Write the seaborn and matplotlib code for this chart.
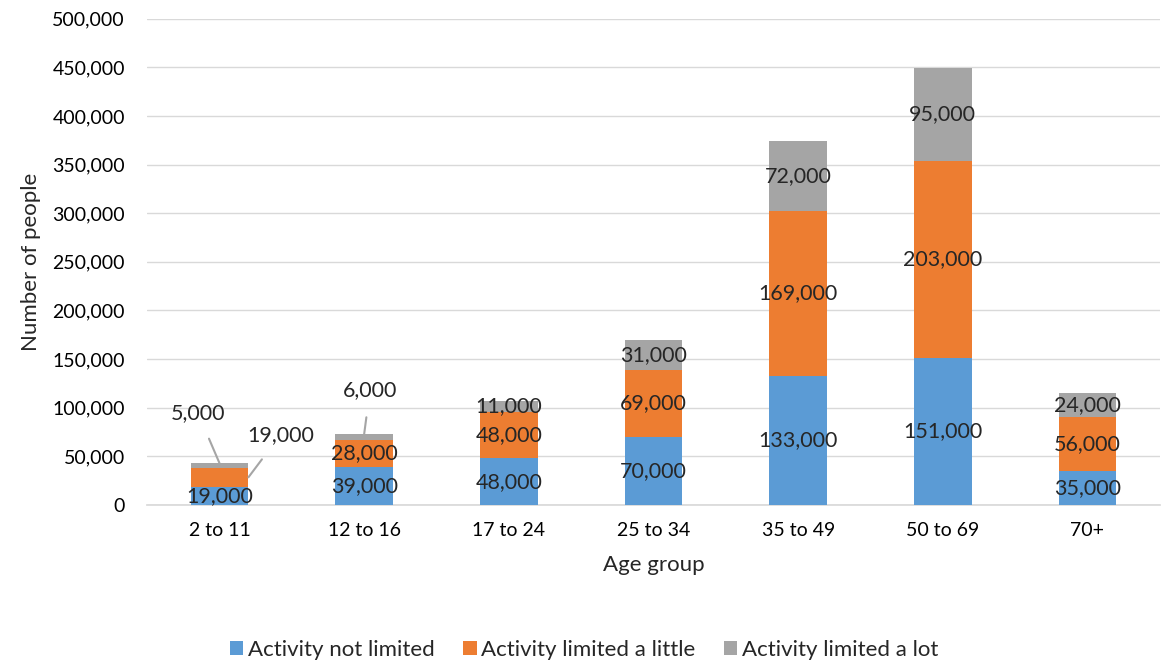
import numpy as np
import pandas as pd
import seaborn as sns
import matplotlib.pyplot as plt
from matplotlib.ticker import FuncFormatter
from matplotlib.patches import Patch

age_groups = ["2 to 11", "12 to 16", "17 to 24", "25 to 34", "35 to 49", "50 to 69", "70+"]
not_limited = [19000, 39000, 48000, 70000, 133000, 151000, 35000]
limited_little = [19000, 28000, 48000, 69000, 169000, 203000, 56000]
limited_lot = [5000, 6000, 11000, 31000, 72000, 95000, 24000]

series_names = ["Activity not limited", "Activity limited a little", "Activity limited a lot"]
colors = ["#5B9BD5", "#ED7D31", "#A5A5A5"]

sns.set_theme(style="white")
plt.rcParams['font.family'] = ['Lato', 'DejaVu Sans']

fig = plt.figure(figsize=(11.68, 6.68), dpi=100)
ax = fig.add_axes([0.126, 0.244, 0.867, 0.728])

# cumulative tops, drawn from the highest down so the stack shows through
s1 = np.array(not_limited)
s2 = s1 + np.array(limited_little)
s3 = s2 + np.array(limited_lot)
for tops, col in zip([s3, s2, s1], colors[::-1]):
    df = pd.DataFrame({"age": age_groups, "value": tops})
    sns.barplot(data=df, x="age", y="value", color=col, width=0.4,
                saturation=1, linewidth=0, ax=ax, zorder=3)

ax.set_ylim(0, 500000)
ax.set_yticks(np.arange(0, 500001, 50000))
ax.yaxis.set_major_formatter(FuncFormatter(lambda v, p: f"{int(v):,}"))
ax.grid(axis="y", color="#D9D9D9", linewidth=1, zorder=0)
for sp in ["top", "right", "left"]:
    ax.spines[sp].set_visible(False)
ax.spines["bottom"].set_color("#D9D9D9")
ax.tick_params(axis="both", length=0, labelsize=14, colors="#000000")
ax.tick_params(axis="x", pad=12)
ax.tick_params(axis="y", pad=16)
ax.set_xlabel("Age group", fontsize=16, labelpad=12)
ax.set_ylabel("Number of people", fontsize=16, labelpad=8)

# segment labels
bottoms = [np.zeros(7), s1, s2]
vals = [not_limited, limited_little, limited_lot]
line_style = dict(arrowstyle="-", color="#A5A5A5", lw=1.5, shrinkA=10, shrinkB=0)
for k in range(3):
    for i in range(7):
        v = vals[k][i]
        y = bottoms[k][i] + v / 2
        label = f"{v:,}"
        if i == 0 and k == 1:
            ax.annotate(label, xy=(0.2, y), xytext=(0.42, 72000), fontsize=15.5,
                        ha="center", va="center", zorder=5, arrowprops=line_style)
        elif i == 0 and k == 2:
            ax.annotate(label, xy=(0.0, s3[0]), xytext=(-0.15, 95000), fontsize=15.5,
                        ha="center", va="center", zorder=5, arrowprops=line_style)
        elif i == 1 and k == 2:
            ax.annotate(label, xy=(1.0, s3[1]), xytext=(1.04, 118000), fontsize=15.5,
                        ha="center", va="center", zorder=5, arrowprops=line_style)
        else:
            ax.text(i, y, label, fontsize=15.5, ha="center", va="center", zorder=5)

handles = [Patch(facecolor=c, edgecolor="none") for c in colors]
fig.legend(handles, series_names, loc="lower center", ncol=3, frameon=False,
           fontsize=16, bbox_to_anchor=(0.5, -0.018), handlelength=0.6,
           handleheight=0.6, handletextpad=0.2, columnspacing=1.3)

fig.savefig("out.png", dpi=100)
